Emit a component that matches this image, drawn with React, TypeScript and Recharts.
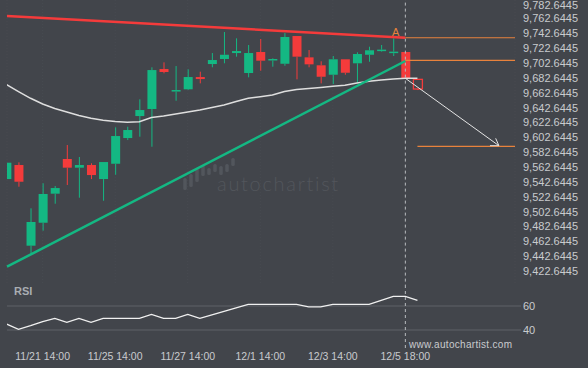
import { ComposedChart, Bar, Line, XAxis, YAxis, ReferenceLine, ReferenceDot, CartesianGrid } from "recharts";

// 4h candles (last one = projected box)
const opens = [9546.5, 9565.4, 9456.8, 9487.7, 9526.8, 9573.5, 9561.8, 9565.4, 9546.5, 9567.1, 9601.7, 9631.3, 9640.8, 9694.6, 9665.4, 9667.3, 9683.8, 9701.3, 9708.1, 9716.1, 9689.2, 9717.5, 9707.4, 9701.7, 9739.0, 9710.3, 9699.6, 9686.9, 9707.7, 9702.3, 9713.8, 9720.4, 9717.7, 9717.5, 9680.7];
const highs = [9568.5, 9569.0, 9507.1, 9540.8, 9537.1, 9592.3, 9576.2, 9567.7, 9569.4, 9616.1, 9616.9, 9653.8, 9696.9, 9703.6, 9698.6, 9694.2, 9691.0, 9716.1, 9744.4, 9735.9, 9726.9, 9735.0, 9709.0, 9743.0, 9739.0, 9720.2, 9705.0, 9712.1, 9707.7, 9717.1, 9724.6, 9726.9, 9735.9, 9717.5, 9680.7];
const lows = [9546.5, 9536.2, 9445.6, 9477.0, 9513.3, 9538.5, 9521.4, 9546.5, 9517.3, 9552.3, 9599.0, 9603.5, 9590.0, 9688.8, 9651.9, 9666.3, 9675.3, 9696.9, 9702.3, 9711.2, 9683.4, 9692.3, 9697.7, 9699.0, 9680.7, 9696.9, 9675.3, 9674.4, 9686.9, 9676.2, 9704.4, 9717.9, 9712.1, 9682.5, 9666.3];
const closes = [9568.5, 9542.9, 9488.7, 9526.4, 9534.4, 9561.8, 9565.4, 9551.9, 9569.4, 9604.4, 9612.5, 9639.4, 9693.2, 9690.6, 9666.3, 9683.8, 9681.1, 9706.7, 9713.8, 9718.8, 9716.1, 9705.8, 9708.1, 9737.7, 9711.2, 9700.9, 9684.2, 9707.7, 9689.6, 9714.8, 9719.8, 9720.7, 9718.0, 9682.5, 9667.7];
const movingAvg = [9673.7, 9664.3, 9655.2, 9647.5, 9641.4, 9636.7, 9632.0, 9628.2, 9625.7, 9624.1, 9622.9, 9623.7, 9629.3, 9631.3, 9634.0, 9636.7, 9639.4, 9642.8, 9646.1, 9650.9, 9655.2, 9657.3, 9659.6, 9664.3, 9667.0, 9668.4, 9669.7, 9671.3, 9672.7, 9675.8, 9678.2, 9679.8, 9681.1, 9682.1, 9682.1];
const rsiValues = [45, 40.6, 43.6, 46.9, 49.7, 46.4, 49.7, 46.4, 49.7, 49.7, 49.7, 49.7, 53, 49.7, 49.7, 53, 49.7, 52.6, 55.6, 58.5, 61.4, 61.4, 61.4, 61.4, 61.4, 59.2, 59.2, 61.4, 61.4, 61.4, 61.4, 64.7, 68, 68, 64.7];

const priceTicks = [9422.6445, 9442.6445, 9462.6445, 9482.6445, 9502.6445, 9522.6445, 9542.6445, 9562.6445, 9582.6445, 9602.6445, 9622.6445, 9642.6445, 9662.6445, 9682.6445, 9702.6445, 9722.6445, 9742.6445, 9762.6445, 9782.6445];
const rsiTicks = [40, 60];
const timeTicks = [3, 9, 15, 21, 27, 33];
const timeLabels = ["11/21 14:00", "11/25 14:00", "11/27 14:00", "12/1 14:00", "12/3 14:00", "12/5 18:00"];

// pattern lines
const resistance = [{ x: 0.05, y: 9765.9 }, { x: 33, y: 9736.7 }];
const support = [{ x: 0.05, y: 9428.5 }, { x: 33, y: 9705.4 }];
const levels = [{ from: 33, y: 9736.7 }, { from: 33, y: 9706.3 }, { from: 34, y: 9590.6 }];
const arrowShaft = [{ x: 33, y: 9682.1 }, { x: 40.74, y: 9591.4 }];
const arrowHead = [{ x: 40.47, y: 9601.3 }, { x: 40.74, y: 9591.4 }, { x: 40.0, y: 9591.4 }];

const LAST = 33;
const FORECAST = 34;

const BG = "#42454b";
const GREEN = "#14b883";
const RED = "#f43b3b";
const ORANGE = "#e8823c";
const TEXT = "#c9cbce";
const GRID = "#5f6268";
const FONT = "'Liberation Sans', Arial, sans-serif";
const X_DOMAIN = [0.05, 42.07];

const rows = opens.map((open, i) => ({
  i,
  open,
  high: highs[i],
  low: lows[i],
  close: closes[i],
  range: [lows[i], highs[i]],
  ma: movingAvg[i],
  rsi: rsiValues[i],
  hollow: i === FORECAST,
}));

const fmtPrice = (v: number) =>
  v.toLocaleString("en-US", { minimumFractionDigits: 4, maximumFractionDigits: 4 });
const fmtTime = (v: number) => timeLabels[timeTicks.indexOf(v)] ?? "";

// price label; the top one is pushed down so it stays inside the picture
const PriceTick = (props: any) => {
  const { x, y, payload } = props;
  return (
    <text x={x} y={Math.max(y, 5.5)} dy="0.355em" textAnchor="start" fill={TEXT} fontSize={11} fontFamily={FONT}>
      {fmtPrice(payload.value)}
    </text>
  );
};

const Candle = (props: any) => {
  const { x, y, width, height, payload } = props;
  if (!payload) return null;
  const top = height < 0 ? y + height : y;
  const h = Math.abs(height);
  const span = payload.high - payload.low;
  const toPx = (v: number) => (span === 0 ? top : top + ((payload.high - v) / span) * h);
  const yo = toPx(payload.open);
  const yc = toPx(payload.close);
  const color = payload.close >= payload.open ? GREEN : RED;
  const cx = x + width / 2;
  const bodyTop = Math.min(yo, yc);
  const bodyH = Math.max(Math.abs(yc - yo), 1.5);
  return (
    <g>
      <line x1={cx} x2={cx} y1={top} y2={bodyTop} stroke={color} strokeWidth={1} />
      <line x1={cx} x2={cx} y1={bodyTop + bodyH} y2={top + h} stroke={color} strokeWidth={1} />
      <rect
        x={x}
        y={bodyTop}
        width={width}
        height={bodyH}
        fill={payload.hollow ? "none" : color}
        stroke={payload.hollow ? color : "none"}
        strokeWidth={1.3}
      />
    </g>
  );
};

const watermarkBars = [
  [185, 178, 190], [191, 174, 187], [197, 168, 182], [203, 165, 176], [209, 168, 175],
  [215, 164, 172], [221, 166, 175], [227, 164, 172], [233, 158, 166],
];

export default function App() {
  return (
    <div style={{ position: "fixed", left: 0, top: 0, width: 588, height: 368, background: BG, overflow: "hidden" }}>
      <svg width={588} height={368} style={{ position: "absolute", left: 0, top: 0 }}>
        {watermarkBars.map(([x, y1, y2], k) => (
          <rect key={k} x={x - 1.75} y={y1} width={3.5} height={y2 - y1} rx={1.5} fill="#52565c" />
        ))}
        <text x={217} y={191} fontFamily="Lato, 'Open Sans', sans-serif" fontWeight={300} fontSize={20} letterSpacing={1.7} fill="#52565c">
          autochartist
        </text>
        <text x={14} y={295} fontFamily={FONT} fontWeight="bold" fontSize={11} fill="#a9adb2">RSI</text>
        <text x={409} y={348} fontFamily={FONT} fontSize={10} letterSpacing={0.3} fill={TEXT}>www.autochartist.com</text>
      </svg>

      <div style={{ position: "absolute", left: 0, top: 0 }}>
        <ComposedChart width={588} height={285} data={rows} margin={{ top: 0, right: 0, left: 7, bottom: 0 }}>
          <CartesianGrid horizontal={false} stroke="#484b51" strokeDasharray="1 2" />
          <XAxis dataKey="i" type="number" domain={X_DOMAIN} allowDataOverflow ticks={timeTicks} hide />
          <YAxis
            orientation="right"
            width={73}
            domain={[9403.9, 9787.5]}
            allowDataOverflow
            ticks={priceTicks}
            axisLine={false}
            tickLine={false}
            interval={0}
            tick={<PriceTick />}
          />
          <Line dataKey="ma" type="linear" stroke="#dedede" strokeWidth={1.5} dot={false} isAnimationActive={false} />
          <Bar dataKey="range" barSize={9} shape={<Candle />} isAnimationActive={false} />
          <ReferenceLine segment={[{ x: LAST, y: 9784 }, { x: LAST, y: 9403.9 }]} stroke="#b8bbbf" strokeDasharray="3 3" />
          <ReferenceLine segment={resistance} stroke={RED} strokeWidth={2.5} />
          <ReferenceLine segment={support} stroke={GREEN} strokeWidth={2.5} />
          {levels.map((l, k) => (
            <ReferenceLine key={k} segment={[{ x: l.from, y: l.y }, { x: X_DOMAIN[1], y: l.y }]} stroke={ORANGE} strokeWidth={1.2} />
          ))}
          <ReferenceLine segment={arrowShaft} stroke="#e4e4e4" strokeWidth={1} />
          <ReferenceLine segment={[arrowHead[0], arrowHead[1]]} stroke="#e4e4e4" strokeWidth={1} />
          <ReferenceLine segment={[arrowHead[1], arrowHead[2]]} stroke="#e4e4e4" strokeWidth={1} />
          <ReferenceDot
            x={32.2}
            y={9744.8}
            r={0}
            fill="none"
            stroke="none"
            label={{ value: "A", position: "center", fill: ORANGE, fontSize: 11, fontFamily: FONT }}
          />
        </ComposedChart>
      </div>

      <div style={{ position: "absolute", left: 0, top: 285 }}>
        <ComposedChart width={588} height={83} data={rows} margin={{ top: 0, right: 0, left: 7, bottom: 0 }}>
          <XAxis
            dataKey="i"
            type="number"
            domain={X_DOMAIN}
            allowDataOverflow
            ticks={timeTicks}
            tickFormatter={fmtTime}
            interval={0}
            axisLine={false}
            tickLine={false}
            height={23}
            tick={{ fill: TEXT, fontSize: 10.5, fontFamily: FONT }}
          />
          <YAxis
            orientation="right"
            width={73}
            domain={[27.5, 77.5]}
            allowDataOverflow
            ticks={rsiTicks}
            axisLine={false}
            tickLine={{ stroke: GRID }}
            tickSize={6}
            interval={0}
            tick={{ fill: TEXT, fontSize: 11, fontFamily: FONT }}
          />
          <ReferenceLine y={60} stroke={GRID} />
          <ReferenceLine y={40} stroke={GRID} />
          <ReferenceLine
            segment={[{ x: LAST, y: 77.5 }, { x: LAST, y: 23.3 }]}
            ifOverflow="visible"
            stroke="#b8bbbf"
            strokeDasharray="3 3"
          />
          <Line dataKey="rsi" type="linear" stroke="#f0f0f0" strokeWidth={1.3} dot={false} isAnimationActive={false} />
        </ComposedChart>
      </div>
    </div>
  );
}
